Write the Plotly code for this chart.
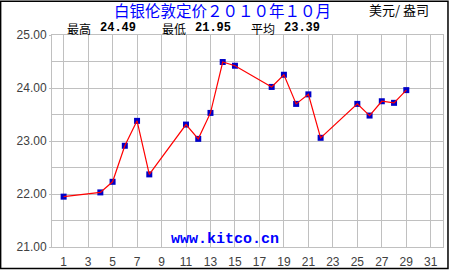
import plotly.graph_objects as go

days = [1, 4, 5, 6, 7, 8, 11, 12, 13, 14, 15, 18, 19, 20, 21, 22, 25, 26, 27, 28, 29]
prices = [21.95, 22.03, 22.23, 22.91, 23.38, 22.37, 23.31, 23.04, 23.53, 24.49, 24.42,
          24.02, 24.25, 23.70, 23.88, 23.06, 23.70, 23.48, 23.75, 23.72, 23.96]
x_ticks = list(range(1, 32, 2))
y_ticks = [21, 22, 23, 24, 25]
y_labels = ["21.00", "22.00", "23.00", "24.00", "25.00"]

title = "白银伦敦定价２０１０年１０月"
unit = "美元/ 盎司"
hi, lo = max(prices), min(prices)
avg = sum(prices) / len(prices)

W, H = 450, 275
L, R, T, B = 52, 6, 35, 23
pw, ph = W - L - R, H - T - B

def px(xp):
    return (xp - L) / pw

def py(yp):
    return 1 - (yp - T) / ph

fig = go.Figure()
fig.add_trace(go.Scatter(x=days, y=prices, mode="markers",
                         marker=dict(symbol="square", size=6, color="#0000C8"),
                         hoverinfo="skip", showlegend=False))
fig.add_trace(go.Scatter(x=days, y=prices, mode="lines",
                         line=dict(color="#FF0000", width=1.2),
                         showlegend=False))

grid = "#C0C0C0"
tickfont = dict(family="Liberation Sans", size=12, color="#404040")
fig.update_xaxes(range=[0.05, 32], tickvals=x_ticks, showgrid=True, gridcolor=grid, gridwidth=1,
                 showline=True, linecolor=grid, mirror=True, zeroline=False,
                 ticks="", tickfont=tickfont, ticklabelstandoff=4)
fig.update_yaxes(range=[21, 25], tickvals=y_ticks, ticktext=y_labels, showgrid=True, gridcolor=grid,
                 gridwidth=1, showline=True, linecolor=grid, mirror=True, zeroline=False,
                 ticks="outside", ticklen=2, tickcolor=grid, tickfont=tickfont,
                 minor=dict(tickvals=[21.5, 22.5, 23.5, 24.5], showgrid=True, gridcolor=grid, gridwidth=1))

ann = []
ann.append(dict(x=px(222.5), y=py(9.5), text=title, showarrow=False, xref="paper", yref="paper",
                xanchor="center", yanchor="middle",
                font=dict(family="Noto Sans CJK SC", size=15.5, color="#0000FF")))
ann.append(dict(x=px(400), y=py(9), text=unit, showarrow=False, xref="paper", yref="paper",
                xanchor="center", yanchor="middle",
                font=dict(family="Noto Sans CJK SC", size=13, color="#000000")))
stats = [("最高", 65, f"{hi:.2f}", 98), ("最低", 160, f"{lo:.2f}", 193), ("平均", 250, f"{avg:.2f}", 283)]
for lab, lx, val, vx in stats:
    ann.append(dict(x=px(lx), y=py(28), text=lab, showarrow=False, xref="paper", yref="paper",
                    xanchor="left", yanchor="middle",
                    font=dict(family="Noto Sans CJK SC", size=12, color="#000000")))
    ann.append(dict(x=px(vx), y=py(27.5), text=f"<b>{val}</b>", showarrow=False, xref="paper", yref="paper",
                    xanchor="left", yanchor="middle",
                    font=dict(family="Liberation Mono", size=12, color="#000000")))
ann.append(dict(x=px(225), y=py(244), text="<b>www.kitco.cn</b>", showarrow=False, xref="paper",
                yref="paper", xanchor="center", yanchor="middle",
                font=dict(family="Liberation Mono", size=15, color="#0000FF")))

shapes = [dict(type="rect", xref="paper", yref="paper", x0=px(0.5), x1=px(449), y0=py(274), y1=py(0.5),
               line=dict(color="#000000", width=1.5), fillcolor="rgba(0,0,0,0)", layer="above")]

fig.update_layout(width=W, height=H, margin=dict(l=L, r=R, t=T, b=B, pad=0),
                  paper_bgcolor="#FFFFFF", plot_bgcolor="#FFFFFF",
                  annotations=ann, shapes=shapes, showlegend=False)
fig.write_html("out.html", config={"displayModeBar": False})
